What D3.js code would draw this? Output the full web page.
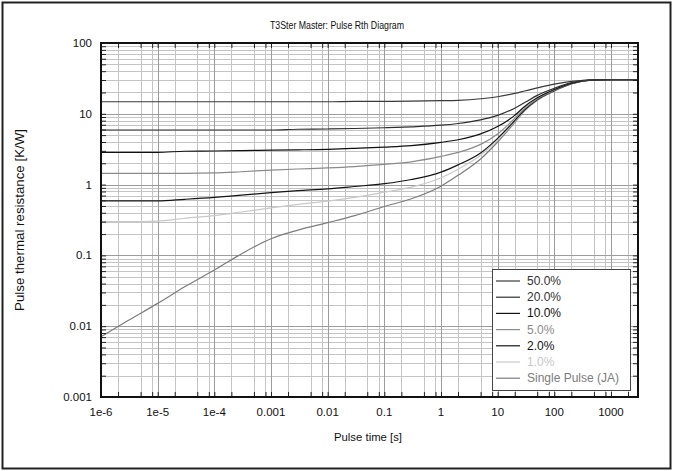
<!DOCTYPE html>
<html>
<head>
<meta charset="utf-8">
<script src="https://cdn.jsdelivr.net/npm/d3@7/dist/d3.min.js"></script>
<style>
  html, body { margin: 0; padding: 0; background: #fff; }
  svg { display: block; font-family: "Liberation Sans", Arial, sans-serif; }
</style>
</head>
<body>
<svg id="chart" width="673" height="471"></svg>
<script>
// ---- data ----
const pulseTimes = [1e-6, 3e-6, 1e-5, 3e-5, 1e-4, 3e-4, 1e-3, 3e-3, 1e-2, 3e-2, 0.1, 0.3, 1, 2, 5, 10, 20, 30, 50, 100, 200, 500, 1000, 3000];
const seriesNames = ["50.0%", "20.0%", "10.0%", "5.0%", "2.0%", "1.0%", "Single Pulse (JA)"];
const d50 = [14.8, 14.8, 14.8, 14.8, 14.8, 14.8, 14.8, 14.8, 14.8, 15.0, 15.0, 15.1, 15.3, 15.5, 16.3, 17.4, 19.4, 21.0, 23.2, 26.3, 28.7, 30.2, 30.3, 30.3];
const d20 = [5.9, 5.9, 5.9, 5.9, 5.9, 5.9, 5.9, 6.05, 6.1, 6.2, 6.35, 6.55, 6.9, 7.3, 8.2, 9.5, 12.0, 14.4, 18.2, 23.0, 27.5, 30.1, 30.3, 30.3];
const d10 = [2.86, 2.86, 2.86, 2.96, 2.98, 3.02, 3.07, 3.1, 3.15, 3.25, 3.38, 3.55, 3.95, 4.3, 5.2, 6.6, 9.5, 12.7, 16.8, 22.0, 27.0, 30.1, 30.3, 30.3];
const d5 = [1.44, 1.44, 1.44, 1.44, 1.46, 1.52, 1.6, 1.66, 1.72, 1.8, 1.93, 2.1, 2.5, 2.85, 3.7, 5.2, 8.6, 11.9, 16.2, 21.5, 26.8, 30.1, 30.3, 30.3];
const d2 = [0.59, 0.59, 0.59, 0.62, 0.66, 0.71, 0.77, 0.82, 0.87, 0.94, 1.03, 1.18, 1.5, 1.9, 2.8, 4.5, 8.0, 11.4, 15.8, 21.2, 26.6, 30.1, 30.3, 30.3];
const d1 = [0.30, 0.30, 0.305, 0.335, 0.365, 0.41, 0.47, 0.525, 0.585, 0.66, 0.78, 0.92, 1.25, 1.65, 2.6, 4.3, 7.8, 11.2, 15.6, 21.1, 26.6, 30.1, 30.3, 30.3];
const single = [0.0071, 0.012, 0.021, 0.036, 0.062, 0.105, 0.172, 0.228, 0.29, 0.365, 0.49, 0.63, 0.95, 1.35, 2.3, 4.0, 7.5, 11.0, 15.5, 21.0, 26.5, 30.0, 30.3, 30.3];
const seriesValues = [d50, d20, d10, d5, d2, d1, single];
const seriesColors = ["#3a3a3a", "#2e2e2e", "#111111", "#8a8a8a", "#151515", "#c8c8c8", "#7c7c7c"];
const legendTextColors = ["#333333", "#333333", "#111111", "#8a8a8a", "#111111", "#c8c8c8", "#7c7c7c"];
const xTickValues = [1e-6, 1e-5, 1e-4, 1e-3, 1e-2, 0.1, 1, 10, 100, 1000];
const xTickLabels = ["1e-6", "1e-5", "1e-4", "0.001", "0.01", "0.1", "1", "10", "100", "1000"];
const yTickValues = [0.001, 0.01, 0.1, 1, 10, 100];
const yTickLabels = ["0.001", "0.01", "0.1", "1", "10", "100"];
const xMinorMult = [2, 5, 8];
const yMinorMult = [2, 3, 4, 5, 6, 7, 8, 9];
const titleText = "T3Ster Master: Pulse Rth Diagram";
const xAxisTitle = "Pulse time [s]";
const yAxisTitle = "Pulse thermal resistance [K/W]";

// ---- layout ----
const W = 673, H = 471;
const L = 101, R = 638, T = 43, B = 397;
const svg = d3.select("#chart");

const x = d3.scaleLog().domain([1e-6, 3000]).range([L, R]);
const y = d3.scaleLog().domain([0.001, 100]).range([B, T]);

// outer frame
svg.append("rect").attr("x", 2.5).attr("y", 2.5).attr("width", W - 5).attr("height", H - 5)
  .attr("fill", "#fff").attr("stroke", "#222").attr("stroke-width", 2);

// gridlines
const xMinor = [], xMajor = [];
for (let e = -6; e <= 3; e++) {
  const base = Math.pow(10, e);
  xMajor.push(base);
  xMinorMult.forEach(m => { const v = m * base; if (v <= 3000) xMinor.push(v); });
}
const yMinor = [], yMajor = [];
for (let e = -3; e <= 2; e++) {
  const base = Math.pow(10, e);
  yMajor.push(base);
  if (e < 2) yMinorMult.forEach(m => yMinor.push(m * base));
}
const grid = svg.append("g");
grid.selectAll(".vmin").data(xMinor).enter().append("line")
  .attr("x1", d => Math.round(x(d)) + 0.5).attr("x2", d => Math.round(x(d)) + 0.5)
  .attr("y1", T).attr("y2", B).attr("stroke", "#c4c4c4").attr("stroke-width", 1);
grid.selectAll(".hmin").data(yMinor).enter().append("line")
  .attr("y1", d => Math.round(y(d)) + 0.5).attr("y2", d => Math.round(y(d)) + 0.5)
  .attr("x1", L).attr("x2", R).attr("stroke", "#c4c4c4").attr("stroke-width", 1);
grid.selectAll(".vmaj").data(xMajor).enter().append("line")
  .attr("x1", d => Math.round(x(d)) + 0.5).attr("x2", d => Math.round(x(d)) + 0.5)
  .attr("y1", T).attr("y2", B).attr("stroke", "#9c9c9c").attr("stroke-width", 1);
grid.selectAll(".hmaj").data(yMajor).enter().append("line")
  .attr("y1", d => Math.round(y(d)) + 0.5).attr("y2", d => Math.round(y(d)) + 0.5)
  .attr("x1", L).attr("x2", R).attr("stroke", "#9c9c9c").attr("stroke-width", 1);

// curves
const line = d3.line().x(d => x(d[0])).y(d => y(d[1])).curve(d3.curveMonotoneX);
const curves = svg.append("g");
for (let i = seriesValues.length - 1; i >= 0; i--) {
  const pts = pulseTimes.map((t, j) => [t, seriesValues[i][j]]);
  curves.append("path").attr("d", line(pts)).attr("fill", "none")
    .attr("stroke", seriesColors[i]).attr("stroke-width", 1.2);
}

// axes with inward ticks
const tickVals = xMinor.concat(xMajor);
const xb = d3.axisBottom(x).tickValues(tickVals).tickSize(-5).tickFormat("");
const xt = d3.axisTop(x).tickValues(tickVals).tickSize(-5).tickFormat("");
const yTickVals = yMinor.concat(yMajor);
const yl = d3.axisLeft(y).tickValues(yTickVals).tickSize(-5).tickFormat("");
const yr = d3.axisRight(y).tickValues(yTickVals).tickSize(-5).tickFormat("");
function styleAx(g) {
  g.select(".domain").remove();
  g.selectAll(".tick line").attr("stroke", "#222");
}
svg.append("g").attr("transform", `translate(0,${B})`).call(xb).call(styleAx);
svg.append("g").attr("transform", `translate(0,${T})`).call(xt).call(styleAx);
svg.append("g").attr("transform", `translate(${L},0)`).call(yl).call(styleAx);
svg.append("g").attr("transform", `translate(${R},0)`).call(yr).call(styleAx);
svg.append("rect").attr("x", L).attr("y", T).attr("width", R - L).attr("height", B - T)
  .attr("fill", "none").attr("stroke", "#111").attr("stroke-width", 2);

// tick labels
svg.append("g").selectAll("text").data(xTickValues).enter().append("text")
  .attr("x", d => x(d)).attr("y", 416).attr("text-anchor", "middle")
  .attr("font-size", 11.5).attr("fill", "#111")
  .text((d, i) => xTickLabels[i]);
svg.append("g").selectAll("text").data(yTickValues).enter().append("text")
  .attr("x", 92).attr("y", d => y(d) + 4).attr("text-anchor", "end")
  .attr("font-size", 11.5).attr("fill", "#111")
  .text((d, i) => yTickLabels[i]);

// titles
svg.append("text").attr("x", 337).attr("y", 29).attr("text-anchor", "middle")
  .attr("font-size", 11.5).attr("fill", "#111")
  .attr("textLength", 134).attr("lengthAdjust", "spacingAndGlyphs").text(titleText);
svg.append("text").attr("x", 368).attr("y", 441).attr("text-anchor", "middle")
  .attr("font-size", 11.5).attr("fill", "#111")
  .attr("textLength", 68).attr("lengthAdjust", "spacingAndGlyphs").text(xAxisTitle);
svg.append("text").attr("transform", `translate(24,${(T + B) / 2}) rotate(-90)`)
  .attr("text-anchor", "middle").attr("font-size", 12.5).attr("fill", "#111")
  .attr("textLength", 182).attr("lengthAdjust", "spacingAndGlyphs").text(yAxisTitle);

// legend
const lg = svg.append("g");
lg.append("rect").attr("x", 492.5).attr("y", 269.5).attr("width", 138).attr("height", 121)
  .attr("fill", "#fff").attr("stroke", "#444").attr("stroke-width", 1);
seriesNames.forEach((name, i) => {
  const yy = 281 + i * 16.2;
  lg.append("line").attr("x1", 496).attr("x2", 520).attr("y1", yy).attr("y2", yy)
    .attr("stroke", seriesColors[i]).attr("stroke-width", 1.2);
  lg.append("text").attr("x", 527).attr("y", yy + 4).attr("font-size", 12)
    .attr("fill", legendTextColors[i]).text(name);
});
</script>
</body>
</html>
